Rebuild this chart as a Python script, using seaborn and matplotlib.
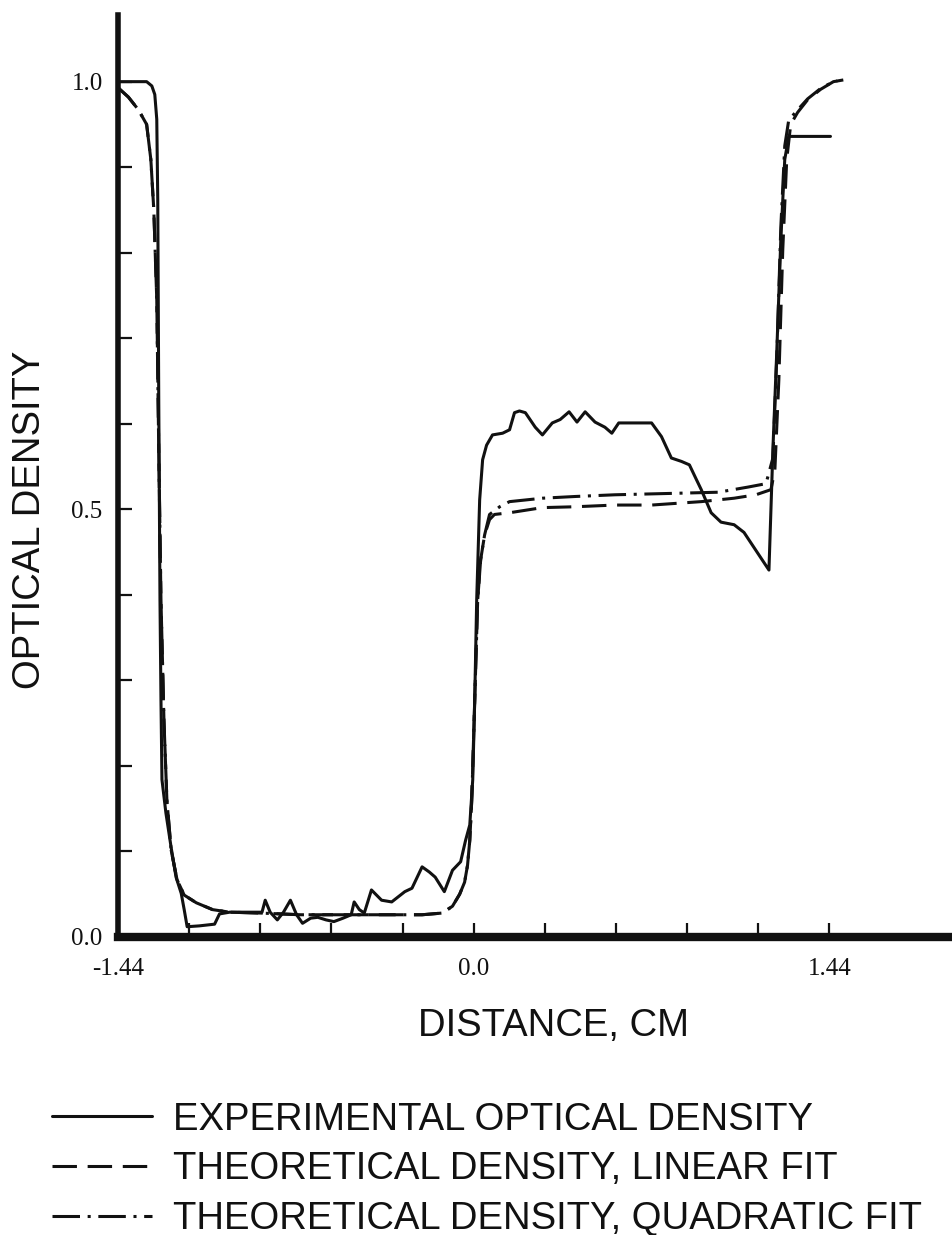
import matplotlib
matplotlib.use("Agg")
import matplotlib.pyplot as plt
import seaborn as sns
import pandas as pd
from matplotlib.ticker import FixedLocator, MultipleLocator

# experimental optical density (solid)
exp_x = [-1.44, -1.324, -1.303, -1.291, -1.283, -1.279, -1.275, -1.270, -1.266, -1.262,
         -1.246, -1.225, -1.205, -1.184, -1.172, -1.160, -1.111, -1.049, -1.029, -0.988,
         -0.857, -0.844, -0.824, -0.795, -0.770, -0.742, -0.717, -0.693, -0.660, -0.631,
         -0.598, -0.566, -0.529, -0.496, -0.484, -0.463, -0.443, -0.414, -0.373, -0.332,
         -0.279, -0.250, -0.209, -0.180, -0.156, -0.119, -0.086, -0.053, -0.033, -0.016,
         -0.004, 0.004, 0.012, 0.024, 0.036, 0.052, 0.076, 0.117, 0.145, 0.165,
         0.185, 0.209, 0.249, 0.278, 0.318, 0.350, 0.386, 0.418, 0.451, 0.491,
         0.531, 0.559, 0.587, 0.720, 0.760, 0.800, 0.841, 0.873, 0.901, 0.921,
         0.961, 1.001, 1.054, 1.094, 1.195, 1.211, 1.227, 1.243, 1.259, 1.275, 1.444]
exp_y = [1.0, 1.0, 0.995, 0.985, 0.956, 0.862, 0.628, 0.394, 0.277, 0.184,
         0.145, 0.105, 0.070, 0.051, 0.032, 0.012, 0.013, 0.015, 0.027, 0.029,
         0.029, 0.043, 0.029, 0.020, 0.029, 0.043, 0.026, 0.016, 0.022, 0.023,
         0.020, 0.018, 0.022, 0.026, 0.041, 0.032, 0.028, 0.055, 0.043, 0.041,
         0.053, 0.057, 0.082, 0.076, 0.070, 0.053, 0.078, 0.088, 0.113, 0.131,
         0.184, 0.277, 0.394, 0.511, 0.558, 0.575, 0.587, 0.589, 0.593, 0.613,
         0.615, 0.613, 0.596, 0.587, 0.601, 0.605, 0.614, 0.602, 0.614, 0.602,
         0.596, 0.589, 0.601, 0.601, 0.585, 0.560, 0.556, 0.552, 0.535, 0.523,
         0.496, 0.485, 0.482, 0.473, 0.429, 0.570, 0.687, 0.815, 0.909, 0.936, 0.936]

# theoretical density, linear fit (dashed)
lin_x = [-1.44, -1.398, -1.357, -1.324, -1.307, -1.295, -1.283, -1.275, -1.266, -1.254,
         -1.242, -1.225, -1.201, -1.172, -1.123, -1.057, -0.988, -0.865, -0.701, -0.373,
         -0.209, -0.127, -0.086, -0.057, -0.037, -0.025, -0.016, -0.008, 0.004, 0.016,
         0.028, 0.044, 0.064, 0.084, 0.145, 0.278, 0.410, 0.571, 0.720, 0.921,
         1.054, 1.142, 1.203, 1.219, 1.235, 1.251, 1.267, 1.283, 1.311, 1.352,
         1.404, 1.456, 1.496]
lin_y = [0.993, 0.982, 0.967, 0.950, 0.909, 0.850, 0.745, 0.570, 0.394, 0.254,
         0.160, 0.102, 0.067, 0.049, 0.040, 0.032, 0.029, 0.028, 0.026, 0.026,
         0.026, 0.028, 0.036, 0.050, 0.064, 0.084, 0.113, 0.160, 0.277, 0.394,
         0.441, 0.470, 0.488, 0.494, 0.496, 0.502, 0.503, 0.505, 0.505, 0.509,
         0.513, 0.517, 0.523, 0.546, 0.651, 0.804, 0.909, 0.950, 0.964, 0.979,
         0.991, 1.000, 1.002]

# theoretical density, quadratic fit (dash-dot)
quad_x = [-1.44, -1.398, -1.357, -1.324, -1.307, -1.295, -1.283, -1.275, -1.266, -1.254,
          -1.242, -1.225, -1.201, -1.172, -1.123, -1.057, -0.988, -0.865, -0.701, -0.373,
          -0.209, -0.127, -0.086, -0.057, -0.037, -0.025, -0.016, -0.008, 0.004, 0.016,
          0.028, 0.044, 0.064, 0.105, 0.145, 0.278, 0.410, 0.571, 0.853, 0.990,
          1.110, 1.183, 1.211, 1.227, 1.243, 1.259, 1.275, 1.311, 1.352, 1.404,
          1.456, 1.496]
quad_y = [0.993, 0.982, 0.967, 0.950, 0.909, 0.850, 0.745, 0.570, 0.394, 0.254,
          0.160, 0.102, 0.067, 0.049, 0.040, 0.032, 0.029, 0.028, 0.026, 0.026,
          0.026, 0.028, 0.036, 0.050, 0.064, 0.084, 0.113, 0.160, 0.277, 0.394,
          0.441, 0.470, 0.494, 0.503, 0.509, 0.513, 0.515, 0.517, 0.519, 0.520,
          0.526, 0.530, 0.560, 0.680, 0.830, 0.925, 0.955, 0.967, 0.980, 0.992,
          1.000, 1.002]

series_labels = ["EXPERIMENTAL OPTICAL DENSITY",
                 "THEORETICAL DENSITY, LINEAR FIT",
                 "THEORETICAL DENSITY, QUADRATIC FIT"]
x_tick_labels = ["-1.44", "0.0", "1.44"]
y_tick_labels = ["0.0", "0.5", "1.0"]

INK = "#111111"
NUM_FONT = "Liberation Serif"
TXT_FONT = "Liberation Sans"

sns.set_style("white")

fig = plt.figure(figsize=(9.53, 12.35), dpi=100)
ax = fig.add_axes([0.1238, 0.2413, 0.8762, 0.7466])

exp_df = pd.DataFrame({"x": exp_x, "y": exp_y})
lin_df = pd.DataFrame({"x": lin_x, "y": lin_y})
quad_df = pd.DataFrame({"x": quad_x, "y": quad_y})

sns.lineplot(data=exp_df, x="x", y="y", color=INK, lw=2.2, sort=False,
             estimator=None, label=series_labels[0], ax=ax)
sns.lineplot(data=lin_df, x="x", y="y", color=INK, lw=2.2, sort=False,
             estimator=None, label=series_labels[1], linestyle=(0, (8, 3.5)), ax=ax)
sns.lineplot(data=quad_df, x="x", y="y", color=INK, lw=2.2, sort=False,
             estimator=None, label=series_labels[2], linestyle=(0, (9, 2.5, 1, 2.5)), ax=ax)

handles, labels = ax.get_legend_handles_labels()
if ax.get_legend() is not None:
    ax.get_legend().remove()

ax.set_xlim(-1.44, 1.94)
ax.set_ylim(0, 1.078)

for side in ["top", "right"]:
    ax.spines[side].set_visible(False)
ax.spines["left"].set_linewidth(4)
ax.spines["bottom"].set_linewidth(6)
ax.spines["left"].set_color(INK)
ax.spines["bottom"].set_color(INK)

ax.set_xticks([-1.44, 0.0, 1.44])
ax.set_xticklabels(x_tick_labels, fontfamily=NUM_FONT, fontsize=18)
ax.xaxis.set_minor_locator(FixedLocator([-1.152, -0.864, -0.576, -0.288,
                                         0.288, 0.576, 0.864, 1.152]))
ax.set_yticks([0.0, 0.5, 1.0])
ax.set_yticklabels(y_tick_labels, fontfamily=NUM_FONT, fontsize=18)
ax.yaxis.set_minor_locator(MultipleLocator(0.1))
ax.tick_params(axis="both", which="both", direction="in", length=10,
               width=1.6, color=INK, labelcolor=INK, bottom=True, left=True)
ax.tick_params(axis="x", which="both", pad=15)
ax.tick_params(axis="y", which="both", pad=11)

ax.set_xlabel("DISTANCE, CM", fontfamily=TXT_FONT, fontsize=27.5, color=INK)
ax.xaxis.label.set_va("center")
ax.xaxis.set_label_coords(0.521, -0.0965)
ax.set_ylabel("OPTICAL DENSITY", fontfamily=TXT_FONT, fontsize=27.5, color=INK)
ax.yaxis.label.set_va("center")
ax.yaxis.set_label_coords(-0.1054, 0.4523)

fig.legend(handles, labels, loc="upper left", bbox_to_anchor=(0.055, 0.108),
           frameon=False, borderpad=0, borderaxespad=0, handlelength=2.6,
           handletextpad=0.55, labelspacing=0.36,
           prop={"family": TXT_FONT, "size": 27.5}, labelcolor=INK)

fig.savefig("out.png", dpi=100, facecolor="white")
